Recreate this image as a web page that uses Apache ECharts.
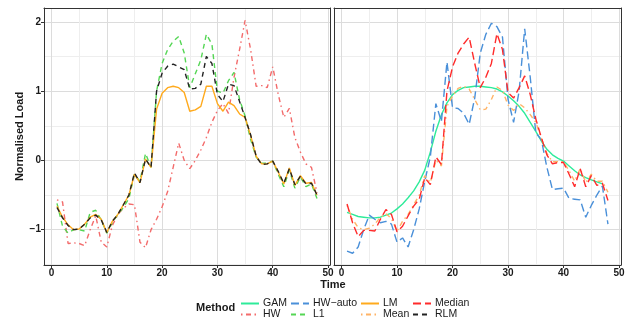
<!DOCTYPE html>
<html>
<head>
<meta charset="utf-8">
<script src="https://cdn.jsdelivr.net/npm/echarts@6/dist/echarts.min.js"></script>
<style>
  html, body { margin: 0; padding: 0; background: #fff; }
  #chart { width: 633px; height: 320px; }
</style>
</head>
<body>
<div id="chart"></div>
<script>
// half-hour index of the day
const time = [1, 2, 3, 4, 5, 6, 7, 8, 9, 10, 11, 12, 13, 14, 15, 16, 17, 18, 19, 20, 21, 22, 23, 24,
  25, 26, 27, 28, 29, 30, 31, 32, 33, 34, 35, 36, 37, 38, 39, 40, 41, 42, 43, 44, 45, 46, 47, 48];

// left panel
const hw = [-0.57, -0.6, -1.2, -1.19, -1.2, -1.23, -1.0, -0.8, -1.18, -1.25, -0.94, -0.78, -0.69, -0.63, -0.64, -1.18,
  -1.26, -1.0, -0.85, -0.67, -0.45, -0.1, 0.25, 0.0, -0.12, 0.0, 0.15, 0.33, 0.55, 0.72, 0.82, 0.68,
  1.2, 1.6, 2.02, 1.6, 1.07, 1.08, 1.05, 1.35, 0.95, 0.62, 0.75, 0.33, 0.12, -0.05, -0.1, -0.47];
const l1 = [-0.62, -0.95, -1.05, -1.0, -1.0, -1.02, -0.75, -0.72, -0.86, -1.05, -0.9, -0.78, -0.68, -0.55, -0.2, -0.3,
  0.1, -0.1, 1.0, 1.4, 1.6, 1.72, 1.79, 1.55, 1.05, 1.25, 1.45, 1.82, 1.68, 1.0, 0.97, 1.15,
  1.27, 0.88, 0.64, 0.3, 0.05, -0.04, -0.04, -0.01, -0.2, -0.38, -0.14, -0.4, -0.24, -0.38, -0.34, -0.55];
const lm = [-0.66, -0.82, -0.93, -1.0, -0.99, -0.92, -0.82, -0.78, -0.85, -1.04, -0.88, -0.78, -0.64, -0.5, -0.2, -0.32,
  0.02, -0.1, 0.74, 0.97, 1.05, 1.07, 1.05, 0.98, 0.71, 0.73, 0.78, 1.07, 1.07, 0.82, 0.71, 0.84,
  0.79, 0.67, 0.62, 0.36, 0.06, -0.05, -0.05, -0.01, -0.17, -0.34, -0.11, -0.36, -0.22, -0.33, -0.32, -0.5];
const rlm = [-0.68, -0.83, -0.94, -1.0, -0.99, -0.92, -0.83, -0.79, -0.86, -1.04, -0.88, -0.78, -0.64, -0.5, -0.18, -0.32,
  0.02, -0.1, 1.0, 1.26, 1.36, 1.39, 1.35, 1.31, 1.03, 1.04, 1.1, 1.5, 1.4, 0.95, 0.85, 1.1,
  1.08, 0.85, 0.62, 0.37, 0.06, -0.06, -0.05, -0.01, -0.16, -0.33, -0.12, -0.35, -0.23, -0.34, -0.33, -0.5];

// right panel (GAM fit stops at 47)
const gam = [-0.75, -0.78, -0.81, -0.82, -0.83, -0.83, -0.82, -0.79, -0.76, -0.7, -0.63, -0.54, -0.44, -0.31, -0.14, 0.12,
  0.42, 0.66, 0.83, 0.95, 1.01, 1.05, 1.06, 1.07, 1.07, 1.06, 1.05, 1.03, 0.99, 0.93, 0.86, 0.78,
  0.68, 0.55, 0.42, 0.28, 0.16, 0.08, 0.03, -0.01, -0.08, -0.15, -0.21, -0.25, -0.28, -0.31, -0.34];
const hwAuto = [-1.31, -1.34, -1.25, -1.0, -0.79, -0.85, -0.9, -0.88, -0.92, -1.18, -1.12, -1.25, -1.0, -0.7, -0.3, 0.05,
  0.82, 0.56, 1.42, 0.76, 0.75, 0.68, 0.52, 0.9, 1.55, 1.82, 1.98, 1.93, 1.78, 0.88, 0.55, 1.0,
  1.9, 1.2, 0.4, 0.3, -0.1, -0.42, -0.41, -0.4, -0.55, -0.56, -0.57, -0.82, -0.65, -0.5, -0.37, -0.92];
const mean = [-0.65, -0.85, -0.97, -1.0, -0.98, -0.92, -0.82, -0.77, -0.84, -1.02, -0.88, -0.78, -0.64, -0.5, -0.22, -0.32,
  0.0, -0.08, 0.78, 0.93, 1.04, 1.07, 1.03, 0.88, 0.73, 0.74, 0.88, 1.06, 1.01, 0.8, 0.72, 0.82,
  0.76, 0.66, 0.55, 0.32, 0.1, -0.02, -0.02, -0.02, -0.15, -0.3, -0.12, -0.32, -0.2, -0.3, -0.3, -0.46];
const median = [-0.63, -0.9, -1.1, -1.01, -1.01, -1.02, -0.85, -0.71, -0.78, -1.03, -0.95, -0.8, -0.66, -0.56, -0.25, -0.35,
  0.05, -0.06, 1.0, 1.35, 1.55, 1.68, 1.78, 1.4, 1.05, 1.2, 1.4, 1.83, 1.6, 0.98, 0.9, 1.05,
  1.22, 0.95, 0.6, 0.33, 0.08, -0.05, -0.03, -0.03, -0.2, -0.38, -0.12, -0.38, -0.22, -0.36, -0.33, -0.58];

const xMajor = [0, 10, 20, 30, 40, 50];
const xMinor = [5, 15, 25, 35, 45];
const yMajor = [-1, 0, 1, 2];
const yMinor = [-1.5, -0.5, 0.5, 1.5];

const font = '"Liberation Sans", Arial, sans-serif';
const frame = { show: true, onZero: false, lineStyle: { color: '#333', width: 1 } };
const XMIN = -1.35, XMAX = 50.35, YMIN = -1.51, YMAX = 2.2;
const minus = v => String(v).replace('-', '\u2212');

function xAxes(gridIndex) {
  return [
    {
      type: 'value', gridIndex, min: XMIN, max: XMAX, position: 'bottom',
      axisLine: frame,
      axisTick: { show: true, length: 3, customValues: xMajor, lineStyle: { color: '#333' } },
      axisLabel: { customValues: xMajor, color: '#1a1a1a', fontWeight: 'bold', fontSize: 10, fontFamily: font, margin: 3 },
      splitLine: { show: true, lineStyle: { color: '#dcdcdc', width: 1 } }
    },
    {
      type: 'value', gridIndex, min: XMIN, max: XMAX, position: 'top',
      axisLine: frame,
      axisTick: { show: false, customValues: xMinor },
      axisLabel: { show: false },
      splitLine: { show: true, lineStyle: { color: '#eeeeee', width: 1 } }
    }
  ];
}

function yAxes(gridIndex, withLabels) {
  return [
    {
      type: 'value', gridIndex, min: YMIN, max: YMAX, position: 'left',
      axisLine: frame,
      axisTick: { show: withLabels, length: 3, customValues: yMajor, lineStyle: { color: '#333' } },
      axisLabel: { show: withLabels, customValues: yMajor, formatter: minus, color: '#1a1a1a', fontWeight: 'bold', fontSize: 10, fontFamily: font, margin: 3 },
      splitLine: { show: true, lineStyle: { color: '#dcdcdc', width: 1 } },
      name: withLabels ? 'Normalised Load' : '',
      nameLocation: 'middle', nameGap: 17, nameRotate: 90,
      nameTextStyle: { color: '#1a1a1a', fontWeight: 'bold', fontSize: 11, fontFamily: font }
    },
    {
      type: 'value', gridIndex, min: YMIN, max: YMAX, position: 'right',
      axisLine: frame,
      axisTick: { show: false, customValues: yMinor },
      axisLabel: { show: false },
      splitLine: { show: true, lineStyle: { color: '#eeeeee', width: 1 } }
    }
  ];
}

function pairs(xs, ys) {
  return ys.map((v, i) => [xs[i], v]);
}

function line(name, ys, color, dash, xIdx, yIdx) {
  return {
    name, type: 'line', xAxisIndex: xIdx, yAxisIndex: yIdx,
    data: pairs(time, ys),
    showSymbol: false, symbol: 'none', silent: true, animation: false,
    lineStyle: { color, width: 1.4, type: dash },
    itemStyle: { color }
  };
}

const SOLID = 'solid';
const DASHED = [5, 4];
const LONGDASH = [8, 4];
const DOTDASH = [1.5, 3.5, 5, 3.5];

// legend laid out like ggplot: 4 columns x 2 rows
const legendPos = [
  ['GAM', 240, 298], ['HW', 240, 309],
  ['HW\u2212auto', 290, 298], ['L1', 290, 309],
  ['LM', 360, 298], ['Mean', 360, 309],
  ['Median', 412, 298], ['RLM', 412, 309]
];

const option = {
  backgroundColor: '#fff',
  animation: false,
  title: [
    { text: 'Time', left: 333, top: 279, textAlign: 'center', padding: 0,
      textStyle: { fontSize: 11, fontWeight: 'bold', color: '#1a1a1a', fontFamily: font } },
    { text: 'Method', left: 196, top: 302, padding: 0,
      textStyle: { fontSize: 11, fontWeight: 'bold', color: '#1a1a1a', fontFamily: font } }
  ],
  grid: [
    { left: 44, top: 8, width: 286, height: 257 },
    { left: 334, top: 8, width: 287, height: 257 }
  ],
  xAxis: [...xAxes(0), ...xAxes(1)],
  yAxis: [...yAxes(0, true), ...yAxes(1, false)],
  legend: legendPos.map(([name, left, top]) => ({
    data: [name], left, top, padding: 0, itemGap: 0,
    itemWidth: 18, itemHeight: 10, selectedMode: false,
    itemStyle: { opacity: 0 },
    textStyle: { fontSize: 10.5, color: '#1a1a1a', fontFamily: font, padding: [0, 0, 0, -1] }
  })),
  series: [
    line('HW', hw, '#f36b6b', DOTDASH, 0, 0),
    line('L1', l1, '#55d655', DASHED, 0, 0),
    line('LM', lm, '#ffaa1d', SOLID, 0, 0),
    line('RLM', rlm, '#222222', DASHED, 0, 0),
    line('GAM', gam, '#2eeb9a', SOLID, 2, 2),
    line('HW\u2212auto', hwAuto, '#4a90d9', LONGDASH, 2, 2),
    line('Mean', mean, '#ffb366', DOTDASH, 2, 2),
    line('Median', median, '#ff2b2b', LONGDASH, 2, 2)
  ]
};

const chart = echarts.init(document.getElementById('chart'), null, { renderer: 'canvas' });
chart.setOption(option);
</script>
</body>
</html>
